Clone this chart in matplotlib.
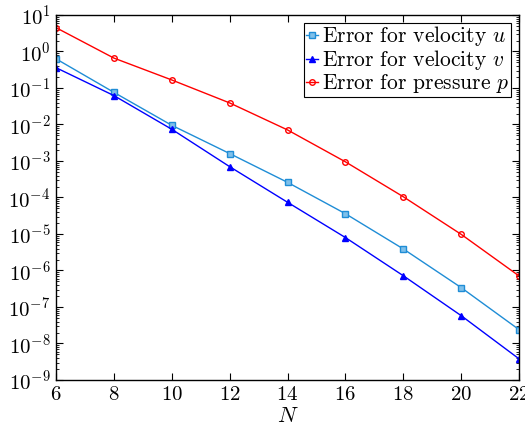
import matplotlib
matplotlib.use("Agg")
import matplotlib.pyplot as plt
from matplotlib.ticker import LogLocator, NullFormatter, FixedLocator

plt.rcParams['font.family'] = 'cmr10'
plt.rcParams['mathtext.fontset'] = 'cm'
plt.rcParams['axes.formatter.use_mathtext'] = True
plt.rcParams['axes.unicode_minus'] = False

N = [6, 8, 10, 12, 14, 16, 18, 20, 22]
err_u = [0.63, 0.076, 0.0095, 0.0016, 2.6e-4, 3.6e-5, 3.9e-6, 3.4e-7, 2.4e-8]
err_v = [0.36, 0.062, 0.0074, 7.0e-4, 7.4e-5, 8.0e-6, 7.2e-7, 5.8e-8, 3.8e-9]
err_p = [4.5, 0.66, 0.166, 0.039, 0.0071, 9.5e-4, 1.05e-4, 9.8e-6, 7.1e-7]
labels = [r'Error for velocity $u$', r'Error for velocity $v$', r'Error for pressure $p$']

fig = plt.figure(figsize=(5.25, 4.26), dpi=100)
ax = fig.add_axes([0.1067, 0.108, 0.8819, 0.8568])

ax.semilogy(N, err_u, color='#1f8dd6', marker='s', ms=4, mfc='#7fc0ea', mec='#1f8dd6',
            mew=1.0, lw=1.0, label=labels[0])
ax.semilogy(N, err_v, color='#0000ff', marker='^', ms=4, lw=1.0, label=labels[1])
ax.semilogy(N, err_p, color='#ff0000', marker='o', ms=4, mfc='none', mew=1.0, lw=1.0,
            label=labels[2])

ax.set_xlim(6, 22)
ax.set_ylim(1e-9, 1e1)
ax.xaxis.set_major_locator(FixedLocator(N))
ax.yaxis.set_major_locator(LogLocator(base=10, numticks=20))
ax.yaxis.set_minor_locator(LogLocator(base=10, subs=range(2, 10), numticks=20))
ax.yaxis.set_minor_formatter(NullFormatter())
ax.tick_params(which='both', direction='in', top=True, right=True, labelsize=15)
ax.tick_params(which='major', length=5, width=0.8, pad=4)
ax.tick_params(which='minor', length=2.5, width=0.6)
ax.set_xlabel(r'$N$', fontsize=16, labelpad=2)

for s in ax.spines.values():
    s.set_linewidth(1.0)

leg = ax.legend(loc='upper right', fontsize=15.5, handlelength=0.55, handletextpad=0.2,
                borderpad=0.08, labelspacing=0.0, fancybox=False, framealpha=1,
                edgecolor='black', borderaxespad=0.35)
leg.get_frame().set_linewidth(0.8)

fig.savefig('out.png', dpi=100)
